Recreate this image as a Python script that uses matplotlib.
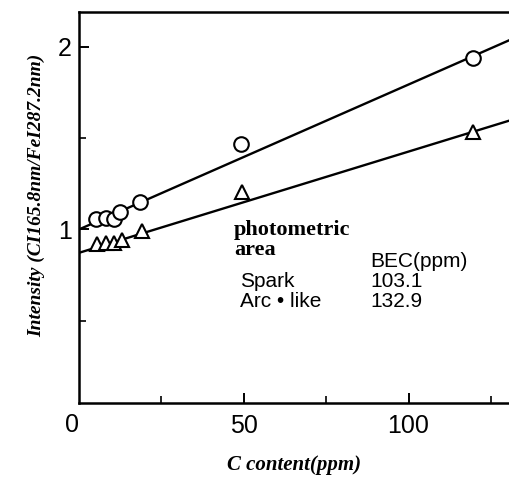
import matplotlib
matplotlib.use("Agg")
import matplotlib.pyplot as plt
import numpy as np

# Data
spark_x = [5.3, 8.3, 10.6, 12.4, 18.5, 49.3, 119.6]
spark_y = [1.055, 1.064, 1.055, 1.095, 1.15, 1.465, 1.94]
arc_x = [5.6, 8.3, 10.6, 12.9, 19.0, 49.5, 119.6]
arc_y = [0.92, 0.925, 0.925, 0.94, 0.99, 1.205, 1.535]
spark_fit = [1.0, 0.00793]   # intercept, slope
arc_fit = [0.872, 0.00554]
xticks = [0, 50, 100]
yticks = [1, 2]
table_rows = [("Spark", "103.1"), ("Arc \u2022 like", "132.9")]

W, H = 509, 484
fig = plt.figure(figsize=(W / 100, H / 100), dpi=100)
L, R, B, T = 79, 509, 403, 12
ax = fig.add_axes([L / W, 1 - B / H, (R - L) / W, (B - T) / H])

xmax = 130.5
ax.set_xlim(0, xmax)
ax.set_ylim(0.05, 2.19)

xx = np.array([0, xmax])
ax.plot(xx, spark_fit[0] + spark_fit[1] * xx, color="black", lw=1.7, zorder=2)
ax.plot(xx, arc_fit[0] + arc_fit[1] * xx, color="black", lw=1.7, zorder=2)
ax.plot(spark_x, spark_y, linestyle="none", marker="o", ms=10.5, mfc="white",
        mec="black", mew=1.5, zorder=3, clip_on=False)
ax.plot(arc_x, arc_y, linestyle="none", marker="^", ms=10.5, mfc="white",
        mec="black", mew=1.5, zorder=3, clip_on=False)

for s in ["left", "bottom", "top"]:
    ax.spines[s].set_linewidth(1.8)
ax.spines["right"].set_visible(False)

ax.set_xticks([x for x in xticks if x > 0])
ax.set_xticks([25, 75, 125], minor=True)
ax.set_yticks(yticks)
ax.set_yticks([0.5, 1.5], minor=True)
ax.tick_params(axis="both", which="major", direction="in", length=7, width=1.4,
               labelsize=18, pad=8)
ax.tick_params(axis="both", which="minor", direction="in", length=5, width=1.2)
for lab in ax.get_xticklabels() + ax.get_yticklabels():
    lab.set_fontfamily("Liberation Sans")
ax.tick_params(axis="y", pad=5)

fig.text(72 / W, 1 - 425 / H, "0", fontsize=18, family="Liberation Sans",
         ha="center", va="center")

fig.text(294 / W, 1 - 465 / H, "C content(ppm)", fontsize=15,
         family="Liberation Serif", style="italic", weight="bold",
         ha="center", va="center")
fig.text(37 / W, 1 - 195 / H, "Intensity (CI165.8nm/FeI287.2nm)", fontsize=14,
         family="Liberation Serif", style="italic", weight="bold",
         rotation=90, ha="center", va="center")

fig.text(234 / W, 1 - 235 / H, "photometric", fontsize=16,
         family="Liberation Serif", weight="bold", ha="left", va="baseline")
fig.text(234 / W, 1 - 255 / H, "area", fontsize=16,
         family="Liberation Serif", weight="bold", ha="left", va="baseline")
fig.text(370 / W, 1 - 267 / H, "BEC(ppm)", fontsize=15,
         family="Liberation Sans", ha="left", va="baseline")
ys = [287, 307]
for (name, val), y in zip(table_rows, ys):
    fig.text(240 / W, 1 - y / H, name, fontsize=15, family="Liberation Sans",
             ha="left", va="baseline")
    fig.text(370 / W, 1 - y / H, val, fontsize=15, family="Liberation Sans",
             ha="left", va="baseline")

fig.savefig("out.png", dpi=100)
